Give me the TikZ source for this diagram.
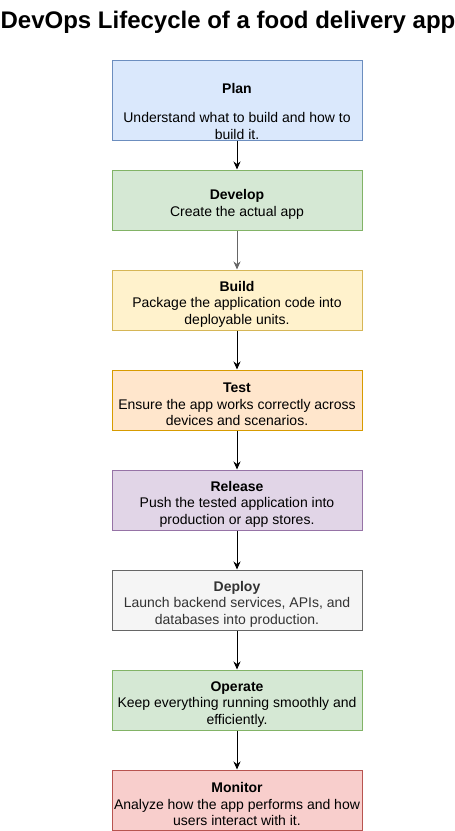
\documentclass[tikz,border=0pt]{standalone}
\usepackage{fontspec}
\setmainfont{Liberation Sans}
\usetikzlibrary{arrows.meta}

\definecolor{planfill}{HTML}{DAE8FC}
\definecolor{planline}{HTML}{6C8EBF}
\definecolor{greenfill}{HTML}{D5E8D4}
\definecolor{greenline}{HTML}{82B366}
\definecolor{buildfill}{HTML}{FFF2CC}
\definecolor{buildline}{HTML}{D6B656}
\definecolor{testfill}{HTML}{FFE6CC}
\definecolor{testline}{HTML}{D79B00}
\definecolor{releasefill}{HTML}{E1D5E7}
\definecolor{releaseline}{HTML}{9673A6}
\definecolor{deployfill}{HTML}{F5F5F5}
\definecolor{deployline}{HTML}{666666}
\definecolor{deploytext}{HTML}{333333}
\definecolor{monitorfill}{HTML}{F8CECC}
\definecolor{monitorline}{HTML}{B85450}
\definecolor{greyarrow}{HTML}{666666}

% empty first line that pushes the text a little down
\newcommand{\padtop}{\mbox{}\\[2pt]}

\begin{document}
\begin{tikzpicture}[
		x=1pt, y=-1pt,
		every node/.style={font=\fontsize{14}{16.5}\selectfont},
		phase/.style={rectangle, draw, line width=1pt, minimum width=250pt, minimum height=60pt, inner sep=0pt, align=center},
		flow/.style={-{Stealth[length=8pt, width=7pt]}, line width=1pt}
	]
  \useasboundingbox (0,0) rectangle (455,831);
  \node (title) [font=\fontsize{24}{28}\selectfont\bfseries] at (228, 22) {DevOps Lifecycle of a food delivery app};
  \node (plan) [phase, minimum height=80pt, fill=planfill, draw=planline] at (237, 100)
    {\mbox{}\\[16.5pt]\textbf{Plan}\\[13pt]Understand what to build and how to\\build it.};
  \node (develop) [phase, fill=greenfill, draw=greenline] at (237, 200)
    {\padtop\textbf{Develop}\\Create the actual app};
  \node (build) [phase, fill=buildfill, draw=buildline] at (237, 300)
    {\padtop\textbf{Build}\\Package the application code into\\deployable units.};
  \node (test) [phase, fill=testfill, draw=testline] at (237, 400)
    {\padtop\textbf{Test}\\Ensure the app works correctly across\\devices and scenarios.};
  \node (release) [phase, fill=releasefill, draw=releaseline] at (237, 500)
    {\padtop\textbf{Release}\\Push the tested application into\\production or app stores.};
  \node (deploy) [phase, fill=deployfill, draw=deployline, text=deploytext] at (237, 600)
    {\padtop\textbf{Deploy}\\Launch backend services, APIs, and\\databases into production.};
  \node (operate) [phase, fill=greenfill, draw=greenline] at (237, 700)
    {\padtop\textbf{Operate}\\Keep everything running smoothly and\\efficiently.};
  \node (monitor) [phase, fill=monitorfill, draw=monitorline] at (237, 800)
    {\padtop\textbf{Monitor}\\Analyze how the app performs and how\\users interact with it.};
  \draw [flow] (plan) -- (develop);
  \draw [flow, greyarrow] (develop) -- (build);
  \draw [flow] (build) -- (test);
  \draw [flow] (test) -- (release);
  \draw [flow] (release) -- (deploy);
  \draw [flow] (deploy) -- (operate);
  \draw [flow] (operate) -- (monitor);
\end{tikzpicture}
\end{document}
